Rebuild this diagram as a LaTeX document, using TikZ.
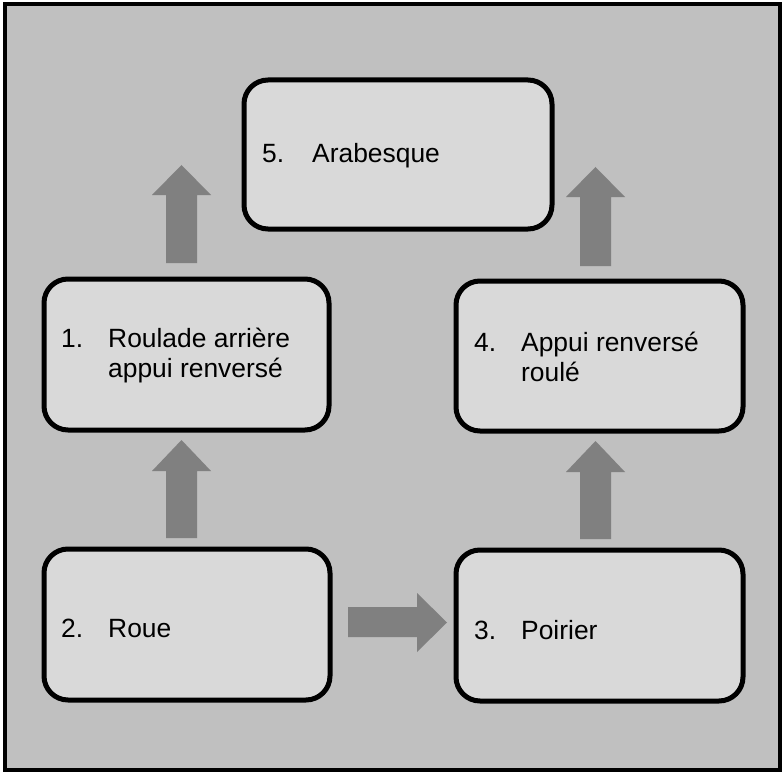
\documentclass[tikz,border=0pt]{standalone}
\usepackage{fontspec}
\setmainfont{Liberation Sans}
\definecolor{bggrey}{HTML}{C0C0C0}
\definecolor{boxgrey}{HTML}{D9D9D9}
\definecolor{arrowgrey}{HTML}{808080}
\tikzset{
  stepbox/.style={draw=black, line width=5pt, fill=boxgrey, rounded corners=24pt},
  blockarrow/.style={fill=arrowgrey},
  lbl/.style={anchor=base west, inner sep=0pt, font=\fontsize{26.4}{30.4}\selectfont},
}
\begin{document}
\begin{tikzpicture}[x=1pt,y=-1pt]
\useasboundingbox (0,0) rectangle (782,773);
\draw[line width=4pt, fill=bggrey] (5,4) rectangle (780,770);
% boxes
\draw[stepbox] (244,80) rectangle (552,229);
\draw[stepbox] (44,279) rectangle (329,430);
\draw[stepbox] (456,281) rectangle (743,431);
\draw[stepbox] (44,549) rectangle (330,700);
\draw[stepbox] (456,550) rectangle (743,701);
% labels
\node[lbl] (n5) at (262,163) {5.};
\node[lbl] (t5) at (312,163) {Arabesque};
\node[lbl] (n1) at (61,347) {1.};
\node[lbl] (t1a) at (108,347) {Roulade arrière};
\node[lbl] (t1b) at (108,377) {appui renversé};
\node[lbl] (n4) at (474,351) {4.};
\node[lbl] (t4a) at (521,351) {Appui renversé};
\node[lbl] (t4b) at (521,381) {roulé};
\node[lbl] (n2) at (61,637) {2.};
\node[lbl] (t2) at (108,637) {Roue};
\node[lbl] (n3) at (474,639) {3.};
\node[lbl] (t3) at (521,639) {Poirier};
% block arrows
\fill[blockarrow] (166,263) -- (166,195) -- (152,195) -- (181.5,165) -- (211,195) -- (197,195) -- (197,263) -- cycle;
\fill[blockarrow] (166,538) -- (166,471) -- (152,471) -- (181.5,440) -- (211,471) -- (197,471) -- (197,538) -- cycle;
\fill[blockarrow] (580,266) -- (580,197) -- (566,197) -- (595.5,167) -- (625,197) -- (611,197) -- (611,266) -- cycle;
\fill[blockarrow] (580,539) -- (580,472) -- (566,472) -- (595.5,441) -- (625,472) -- (611,472) -- (611,539) -- cycle;
\fill[blockarrow] (348,607) -- (417,607) -- (417,593) -- (447,622.5) -- (417,652) -- (417,637) -- (348,637) -- cycle;
\end{tikzpicture}
\end{document}
